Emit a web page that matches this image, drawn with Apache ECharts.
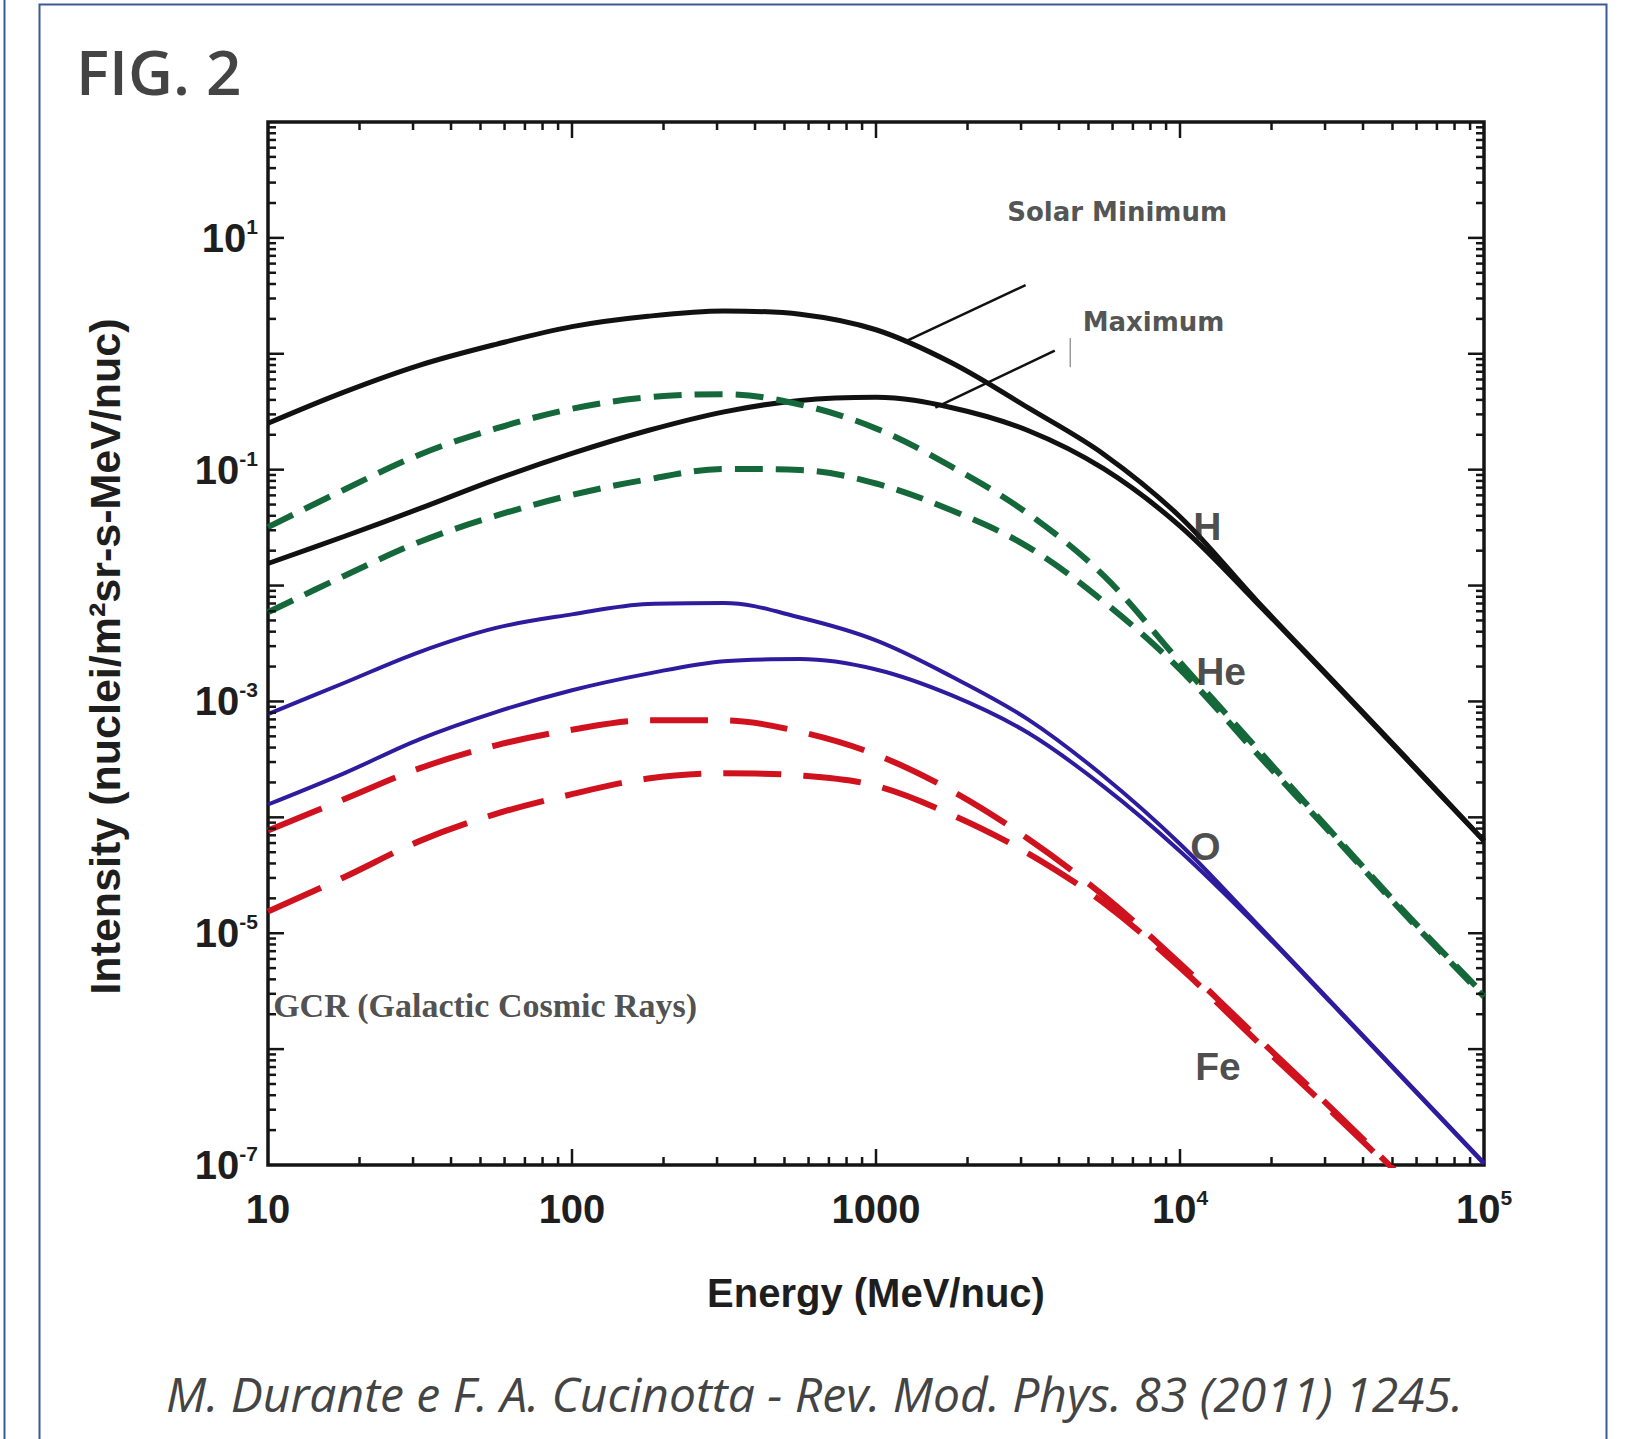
<!DOCTYPE html>
<html>
<head>
<meta charset="utf-8">
<script src="https://cdn.jsdelivr.net/npm/echarts@6/dist/echarts.min.js"></script>
<style>
html,body{margin:0;padding:0;background:#fff;}
#chart{width:1629px;height:1439px;}
</style>
</head>
<body>
<div id="chart"></div>
<script>
// ---------------- data (quarter-decade steps) ----------------
const energy = [10, 17.78, 31.62, 56.23, 100, 177.8, 316.2, 562.3, 1000, 1778, 3162, 5623, 10000, 17783, 31623, 56234, 100000];

const H_solarMin  = [0.2515, 0.467, 0.7988, 1.207, 1.7145, 2.107, 2.337, 2.196, 1.612, 0.8325, 0.3426, 0.1354, 0.03924, 0.007524, 0.001536, 3.134e-4, 6.266e-5];
const H_solarMax  = [0.0155, 0.02651, 0.04628, 0.08249, 0.1382, 0.2177, 0.3155, 0.396, 0.4213, 0.3426, 0.2177, 0.1014, 0.03259, 0.007223, 0.001505, 3.07e-4, 6.266e-5];
const He_solarMin = [0.03191, 0.06711, 0.1354, 0.2268, 0.3357, 0.4213, 0.4482, 0.3646, 0.2268, 0.1057, 0.04175, 0.0121, 0.002182, 4.016e-4, 7.39e-5, 1.418e-5, 2.954e-6];
const He_solarMax = [0.005876, 0.0121, 0.02391, 0.04006, 0.06053, 0.08249, 0.1014, 0.09934, 0.07598, 0.04441, 0.02157, 0.007223, 0.001888, 3.622e-4, 7.09e-5, 1.36e-5, 2.835e-6];
const O_solarMin  = [7.772e-4, 1.443e-3, 2.682e-3, 4.311e-3, 5.638e-3, 6.932e-3, 7.075e-3, 5.3e-3, 3.365e-3, 1.634e-3, 7.011e-4, 2.253e-4, 5.891e-5, 1.227e-5, 2.504e-6, 5.11e-7, 1.043e-7];
const O_solarMax  = [1.29e-4, 2.397e-4, 4.736e-4, 8.1e-4, 1.25e-3, 1.739e-3, 2.227e-3, 2.321e-3, 1.888e-3, 1.127e-3, 5.361e-4, 1.833e-4, 5.097e-5, 1.178e-5, 2.453e-6, 5.005e-7, 1.022e-7];
const Fe_solarMin = [7.7e-5, 1.43e-4, 2.658e-4, 4.183e-4, 5.704e-4, 6.867e-4, 6.867e-4, 5.473e-4, 3.475e-4, 1.688e-4, 6.531e-5, 2.098e-5, 5.485e-6, 1.293e-6, 3.05e-7, 6.9e-8, 1.468e-8];
const Fe_solarMax = [1.54e-5, 3.042e-5, 6.266e-5, 1.071e-4, 1.586e-4, 2.161e-4, 2.397e-4, 2.3e-4, 1.871e-4, 1.05e-4, 4.893e-5, 1.816e-5, 5.051e-6, 1.191e-6, 2.867e-7, 6.62e-8, 1.41e-8];

// axis ranges and tick labels
const xRange = [10, 100000];
const yRange = [1e-7, 100];
const xLabelValues = [10, 100, 1000, 10000, 100000];
const xLabelTexts  = ['10', '100', '1000', '10^4', '10^5'];
const yLabelValues = [1e1, 1e-1, 1e-3, 1e-5, 1e-7];
const yLabelTexts  = ['10^1', '10^-1', '10^-3', '10^-5', '10^-7'];
const minorMultipliers = [2, 3, 4, 5, 6, 7, 8, 9];

// annotations
const annoText      = ['Solar Minimum', 'Maximum', 'H', 'He', 'O', 'Fe', 'GCR (Galactic Cosmic Rays)'];
const annoEnergy    = [6210, 8185, 12300, 13650, 12130, 13340, 10.4];
const annoIntensity = [16.6, 1.862, 0.0326, 1.81e-3, 5.65e-5, 7.11e-7, 2.40e-6];
const leaderMinE = [1236, 3105];
const leaderMinI = [1.258, 3.915];
const leaderMaxE = [1567, 3873];
const leaderMaxI = [0.3426, 1.066];
const markerE = [4355, 4355];
const markerI = [1.366, 0.766];

// ---------------- helpers ----------------
function decadeTicks(lo, hi) {
  const out = [];
  const e0 = Math.round(Math.log10(lo)), e1 = Math.round(Math.log10(hi));
  for (let e = e0; e <= e1; e++) {
    const base = Math.pow(10, e);
    if (e > e0 && e < e1) out.push(base);
    if (e < e1) minorMultipliers.forEach(m => out.push(m * base));
  }
  return out;
}
function isMajor(v) {
  const l = Math.log10(v);
  return Math.abs(l - Math.round(l)) < 1e-6;
}
function richLabel(txt) {
  const p = txt.split('^');
  return p.length > 1 ? '{b|' + p[0] + '}{s|' + p[1] + '}' : '{b|' + txt + '}';
}
function makeFormatter(vals, texts) {
  return function (v) {
    for (let i = 0; i < vals.length; i++) {
      if (Math.abs(Math.log10(v) - Math.log10(vals[i])) < 1e-6) return richLabel(texts[i]);
    }
    return '';
  };
}
const labelFont = 'Liberation Sans, Arial, Helvetica, sans-serif';
const richStyles = {
  b: { fontFamily: labelFont, fontWeight: 'bold', fontSize: 40, color: '#1e1e1e', lineHeight: 44 },
  s: { fontFamily: labelFont, fontWeight: 'bold', fontSize: 21, color: '#1e1e1e', lineHeight: 22, verticalAlign: 'top' }
};

function curve(name, values, color, width, type) {
  return {
    type: 'line', name: name,
    data: energy.map((e, i) => [e, values[i]]),
    symbol: 'none', showSymbol: false, smooth: 0.35, clip: true, silent: true, z: 3,
    lineStyle: { color: color, width: width, type: type || 'solid', cap: 'butt' }
  };
}
function leader(E, I, color, width) {
  return {
    type: 'line', data: E.map((e, i) => [e, I[i]]), symbol: 'none', showSymbol: false,
    silent: true, z: 4, lineStyle: { color: color, width: width }
  };
}

const TICK_MAJOR = 16, TICK_MINOR = 8, TICK_W = 2.5, AXIS_COLOR = '#151515';

const xTickData = decadeTicks(xRange[0], xRange[1]).map(v => [v, yRange[0]]);
const yTickData = decadeTicks(yRange[0], yRange[1]).map(v => [xRange[0], v]);

function renderXTick(params, api) {
  const v = api.value(0);
  const b = api.coord([v, yRange[0]]);
  const t = api.coord([v, yRange[1]]);
  const len = isMajor(v) ? TICK_MAJOR : TICK_MINOR;
  const st = { stroke: AXIS_COLOR, lineWidth: TICK_W };
  return { type: 'group', children: [
    { type: 'line', shape: { x1: b[0], y1: b[1], x2: b[0], y2: b[1] - len }, style: st },
    { type: 'line', shape: { x1: t[0], y1: t[1], x2: t[0], y2: t[1] + len }, style: st }
  ]};
}
function renderYTick(params, api) {
  const v = api.value(1);
  const l = api.coord([xRange[0], v]);
  const r = api.coord([xRange[1], v]);
  const len = isMajor(v) ? TICK_MAJOR : TICK_MINOR;
  const st = { stroke: AXIS_COLOR, lineWidth: TICK_W };
  return { type: 'group', children: [
    { type: 'line', shape: { x1: l[0], y1: l[1], x2: l[0] + len, y2: l[1] }, style: st },
    { type: 'line', shape: { x1: r[0], y1: r[1], x2: r[0] - len, y2: r[1] }, style: st }
  ]};
}

const annoStyles = [
  { fontFamily: 'DejaVu Sans', fontWeight: 'bold', fontSize: 26, color: '#262626', align: 'center' },
  { fontFamily: 'DejaVu Sans', fontWeight: 'bold', fontSize: 26, color: '#262626', align: 'center' },
  { fontFamily: labelFont, fontWeight: 'bold', fontSize: 39, color: '#1e1e1e', align: 'center' },
  { fontFamily: labelFont, fontWeight: 'bold', fontSize: 39, color: '#1e1e1e', align: 'center' },
  { fontFamily: labelFont, fontWeight: 'bold', fontSize: 39, color: '#1e1e1e', align: 'center' },
  { fontFamily: labelFont, fontWeight: 'bold', fontSize: 39, color: '#1e1e1e', align: 'center' },
  { fontFamily: 'Liberation Serif, Times New Roman, serif', fontWeight: 'bold', fontSize: 34, color: '#222222', align: 'left' }
];
const annoData = annoText.map((t, i) => ({
  value: [annoEnergy[i], annoIntensity[i]],
  label: Object.assign({
    show: true, formatter: t,
    position: annoStyles[i].align === 'left' ? 'right' : 'inside',
    distance: 0, verticalAlign: 'middle'
  }, annoStyles[i])
}));

const chart = echarts.init(document.getElementById('chart'), null, { renderer: 'svg' });
chart.setOption({
  animation: false,
  backgroundColor: '#ffffff',
  title: [
    { text: 'FIG. 2', left: 71, top: 35,
      textStyle: { fontFamily: 'Open Sans', fontWeight: 600, fontSize: 62, color: '#444444' } },
    { text: 'M. Durante e F. A. Cucinotta - Rev. Mod. Phys. 83 (2011) 1245.', left: 'center', top: 1364,
      textStyle: { fontFamily: 'Open Sans', fontStyle: 'italic', fontWeight: 'normal', fontSize: 48, color: '#444444' } }
  ],
  graphic: [
    { type: 'rect', silent: true, z: -10, shape: { x: 39.5, y: 4.5, width: 1567, height: 1500 },
      style: { fill: 'none', stroke: '#3a5b95', lineWidth: 2 } },
    { type: 'line', silent: true, z: -10, shape: { x1: 4.5, y1: 0, x2: 4.5, y2: 1439 },
      style: { stroke: '#3a5b95', lineWidth: 2 } }
  ],
  grid: { left: 268, right: 145, top: 122, bottom: 274, show: true,
          borderColor: AXIS_COLOR, borderWidth: 3.5, backgroundColor: '#ffffff' },
  xAxis: {
    type: 'log', logBase: 10, min: xRange[0], max: xRange[1],
    name: 'Energy (MeV/nuc)', nameLocation: 'middle', nameGap: 108,
    nameTextStyle: { fontFamily: labelFont, fontWeight: 'bold', fontSize: 40, color: '#1e1e1e' },
    axisLine: { show: false }, axisTick: { show: false }, splitLine: { show: false },
    axisLabel: { customValues: xLabelValues, formatter: makeFormatter(xLabelValues, xLabelTexts),
                 margin: 22, rich: richStyles }
  },
  yAxis: {
    type: 'log', logBase: 10, min: yRange[0], max: yRange[1],
    name: 'Intensity (nuclei/m²sr-s-MeV/nuc)', nameLocation: 'middle', nameGap: 142, nameRotate: 90,
    nameTextStyle: { fontFamily: labelFont, fontWeight: 'bold', fontSize: 43, color: '#1e1e1e',
                     padding: [0, 26, 0, 0] },
    axisLine: { show: false }, axisTick: { show: false }, splitLine: { show: false },
    axisLabel: { customValues: yLabelValues, formatter: makeFormatter(yLabelValues, yLabelTexts),
                 margin: 10, rich: richStyles }
  },
  series: [
    curve('H solar minimum', H_solarMin, '#111111', 5),
    curve('H solar maximum', H_solarMax, '#111111', 5),
    curve('He solar minimum', He_solarMin, '#15683a', 6, [28, 13]),
    curve('He solar maximum', He_solarMax, '#15683a', 6, [28, 13]),
    curve('O solar minimum', O_solarMin, '#2d1c9e', 4),
    curve('O solar maximum', O_solarMax, '#2d1c9e', 4),
    curve('Fe solar minimum', Fe_solarMin, '#d0121f', 6, [58, 22]),
    curve('Fe solar maximum', Fe_solarMax, '#d0121f', 6, [58, 22]),
    leader(leaderMinE, leaderMinI, '#111111', 2.5),
    leader(leaderMaxE, leaderMaxI, '#111111', 2.5),
    leader(markerE, markerI, '#9a9a9a', 1.5),
    { type: 'custom', coordinateSystem: 'cartesian2d', renderItem: renderXTick, data: xTickData,
      clip: false, silent: true, z: 10 },
    { type: 'custom', coordinateSystem: 'cartesian2d', renderItem: renderYTick, data: yTickData,
      clip: false, silent: true, z: 10 },
    { type: 'scatter', symbolSize: 0, data: annoData, silent: true, z: 12 }
  ]
});
</script>
</body>
</html>
